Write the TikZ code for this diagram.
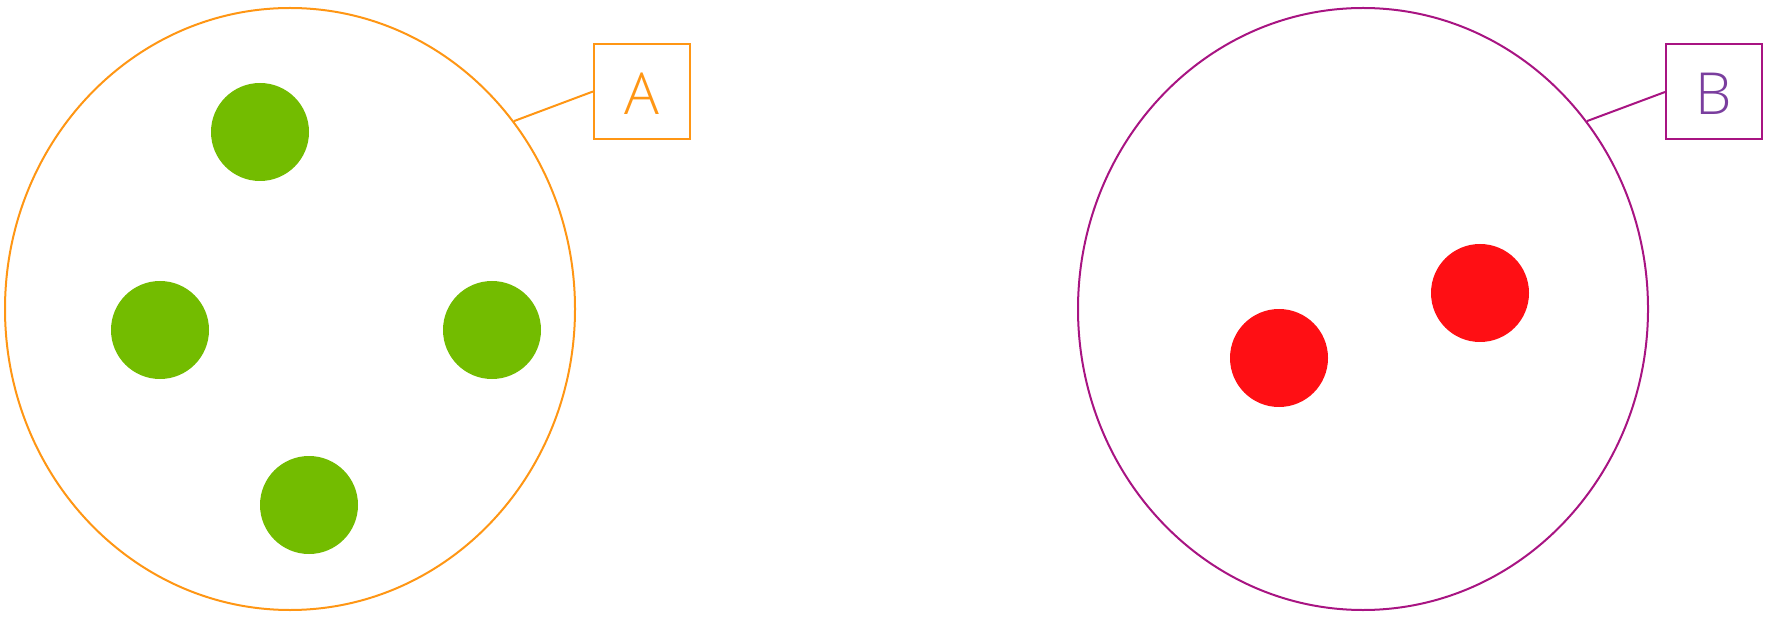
\documentclass[tikz,border=0pt]{standalone}
\usepackage{fontspec}
\setmainfont{Open Sans}[UprightFont=* Light]
\usetikzlibrary{shapes.geometric}
\definecolor{orA}{RGB}{255,150,20}
\definecolor{grn}{RGB}{115,188,0}
\definecolor{rd}{RGB}{255,15,20}
\definecolor{mag}{RGB}{168,20,130}
\definecolor{pur}{RGB}{122,62,158}
\tikzset{
  bigell/.style={ellipse, draw, line width=2pt, minimum width=570pt, minimum height=602pt, inner sep=0pt},
  dot/.style={circle, inner sep=0pt, minimum size=98pt},
  labbox/.style={draw, line width=2pt, minimum width=96pt, minimum height=95pt, inner sep=0pt, text height=46pt, text depth=0pt, font=\fontsize{58}{60}\selectfont},
  conn/.style={line width=2pt}
}
\begin{document}
\begin{tikzpicture}[x=1pt,y=-1pt]
\useasboundingbox (0,0) rectangle (1782,617);
% left set
\node[bigell, draw=orA] (ellA) at (290,309) {};
\node[dot, fill=grn] (g1) at (260,132) {};
\node[dot, fill=grn] (g2) at (160,330) {};
\node[dot, fill=grn] (g3) at (492,330) {};
\node[dot, fill=grn] (g4) at (309,505) {};
\node[labbox, draw=orA, text=orA] (boxA) at (642,91.5) {A};
\draw[conn, orA] (ellA.40) -- (boxA.west);
% right set
\node[bigell, draw=mag] (ellB) at (1363,309) {};
\node[dot, fill=rd] (r1) at (1480,293) {};
\node[dot, fill=rd] (r2) at (1279,358) {};
\node[labbox, draw=mag, text=pur] (boxB) at (1714,92) {B};
\draw[conn, mag] (ellB.40) -- (boxB.west);
\end{tikzpicture}
\end{document}
